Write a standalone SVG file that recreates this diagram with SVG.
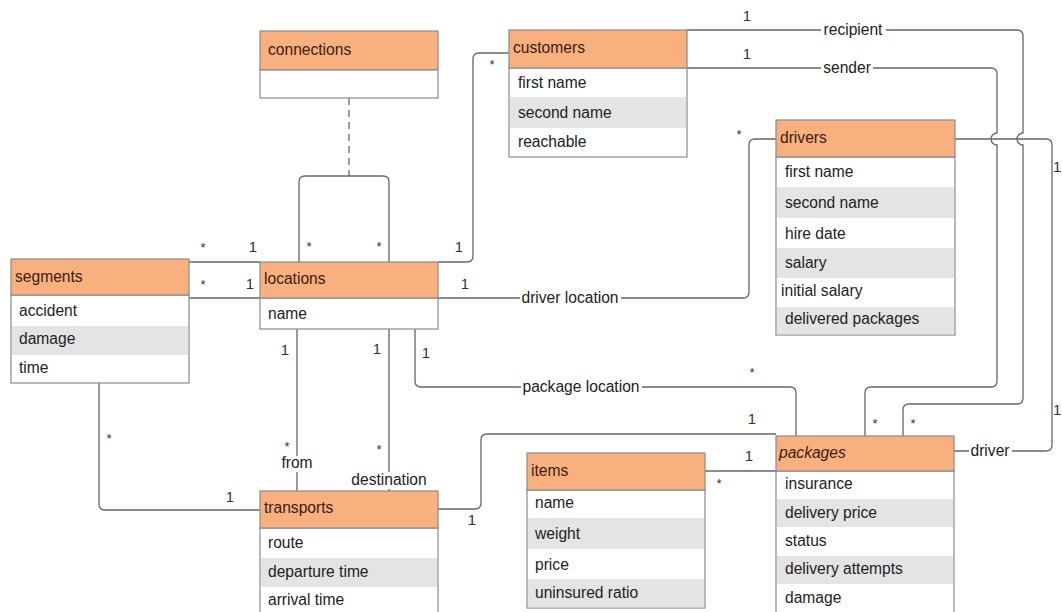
<svg xmlns="http://www.w3.org/2000/svg" width="1062" height="612" viewBox="0 0 1062 612">
<style>
text{font-family:"Liberation Sans",Arial,sans-serif;font-size:15.6px;fill:#222}
.hd{fill:#F9B07F;stroke:#8a8a8a;stroke-width:1.2}
.bx{fill:#fff;stroke:#8a8a8a;stroke-width:1.2}
.zb{fill:#e4e4e4}
.ht{fill:#3a1c10}
.ln{fill:none;stroke:#666;stroke-width:1.3}
.dash{stroke-dasharray:7,5}
.lb{fill:#fff}
.m{font-size:15px;fill:#333}
.s{font-size:13px;fill:#333}
.c{text-anchor:middle}
</style>
<rect width="1062" height="612" fill="#fff"/>
<g id="connectors">
<path class="ln dash" d="M349,98 V176"/>
<path class="ln" d="M299,262 V182 Q299,176 305,176 H383 Q389,176 389,182 V262"/>
<path class="ln" d="M189,262 H260"/>
<path class="ln" d="M189,298 H260"/>
<path class="ln" d="M438,262 H467 Q473,262 473,256 V59 Q473,53 479,53 H509"/>
<path class="ln" d="M438,298 H743 Q749,298 749,292 V145 Q749,139 755,139 H776"/>
<path class="ln" d="M415,329 V381 Q415,387 421,387 H790 Q796,387 796,393 V436"/>
<path class="ln" d="M297,329 V491"/>
<path class="ln" d="M389,329 V491"/>
<path class="ln" d="M99,383 V504 Q99,510 105,510 H260"/>
<path class="ln" d="M438,509 H475 Q481,509 481,503 V440 Q481,434 487,434 H776"/>
<path class="ln" d="M705,471 H776"/>
<path class="ln" d="M687,30 H1017 Q1023,30 1023,36 V133 A6,6 0 0 0 1023,145 V398 Q1023,404 1017,404 H909 Q903,404 903,410 V436"/>
<path class="ln" d="M687,68 H991 Q997,68 997,74 V133 A6,6 0 0 0 997,145 V381 Q997,387 991,387 H871 Q865,387 865,393 V436"/>
<path class="ln" d="M955,139 H1046 Q1052,139 1052,145 V445 Q1052,451 1046,451 H954"/>
<rect class="lb" x="821" y="20" width="65" height="20"/>
<text x="853" y="35" class="c">recipient</text>
<rect class="lb" x="821" y="58" width="52" height="20"/>
<text x="847" y="73" class="c">sender</text>
<rect class="lb" x="520" y="288" width="101" height="20"/>
<text x="570" y="303" class="c">driver location</text>
<rect class="lb" x="521" y="377" width="121" height="20"/>
<text x="581" y="392" class="c">package location</text>
<rect class="lb" x="969" y="441" width="43" height="20"/>
<text x="990" y="456" class="c">driver</text>
<rect class="lb" x="280" y="456" width="34" height="16"/>
<text x="297" y="468" class="c">from</text>
<rect class="lb" x="347" y="472" width="84" height="17"/>
<text x="389" y="485" class="c">destination</text>
<text x="203" y="252" class="s c">*</text>
<text x="253" y="252" class="m c">1</text>
<text x="203" y="289" class="s c">*</text>
<text x="250" y="289" class="m c">1</text>
<text x="309" y="251" class="s c">*</text>
<text x="379" y="251" class="s c">*</text>
<text x="459" y="252" class="m c">1</text>
<text x="492" y="69" class="s c">*</text>
<text x="465" y="289" class="m c">1</text>
<text x="739" y="139" class="s c">*</text>
<text x="285" y="355" class="m c">1</text>
<text x="287" y="451" class="s c">*</text>
<text x="377" y="354" class="m c">1</text>
<text x="379" y="454" class="s c">*</text>
<text x="426" y="358" class="m c">1</text>
<text x="752" y="377" class="s c">*</text>
<text x="109" y="443" class="s c">*</text>
<text x="230" y="502" class="m c">1</text>
<text x="472" y="525" class="m c">1</text>
<text x="752" y="424" class="m c">1</text>
<text x="749" y="461" class="m c">1</text>
<text x="719" y="488" class="s c">*</text>
<text x="747" y="21" class="m c">1</text>
<text x="913" y="428" class="s c">*</text>
<text x="747" y="59" class="m c">1</text>
<text x="875" y="428" class="s c">*</text>
<text x="1053" y="172" class="m">1</text>
<text x="1053" y="415" class="m">1</text>
</g>
<g id="connections">
<rect class="hd" x="260" y="31" width="178" height="39"/>
<rect class="bx" x="260" y="70" width="178" height="28"/>
<text x="268" y="55" class="ht">connections</text>
</g>
<g id="customers">
<rect class="bx" x="509" y="68" width="178" height="89"/>
<rect class="zb" x="510" y="97" width="176" height="31"/>
<rect class="hd" x="509" y="30" width="178" height="38"/>
<text x="513" y="52.5" class="ht">customers</text>
<text x="518" y="88">first name</text>
<text x="518" y="118">second name</text>
<text x="518" y="146.5">reachable</text>
</g>
<g id="locations">
<rect class="bx" x="260" y="298" width="178" height="31"/>
<rect class="hd" x="260" y="262" width="178" height="36"/>
<text x="264" y="283.5" class="ht">locations</text>
<text x="268" y="318.5">name</text>
</g>
<g id="segments">
<rect class="bx" x="11" y="295" width="178" height="88"/>
<rect class="zb" x="12" y="326" width="176" height="29"/>
<rect class="hd" x="11" y="259" width="178" height="36"/>
<text x="15" y="281.5" class="ht">segments</text>
<text x="19" y="315.5">accident</text>
<text x="19" y="343.5">damage</text>
<text x="19" y="372.5">time</text>
</g>
<g id="drivers">
<rect class="bx" x="776" y="157" width="179" height="178"/>
<rect class="zb" x="777" y="187" width="177" height="31"/>
<rect class="zb" x="777" y="248" width="177" height="30"/>
<rect class="zb" x="777" y="307" width="177" height="27.4"/>
<rect class="hd" x="776" y="120" width="179" height="37"/>
<text x="780" y="142.5" class="ht">drivers</text>
<text x="785" y="176.5">first name</text>
<text x="785" y="207.5">second name</text>
<text x="785" y="238.5">hire date</text>
<text x="785" y="267.5">salary</text>
<text x="781" y="295.5">initial salary</text>
<text x="785" y="323.5">delivered packages</text>
</g>
<g id="transports">
<rect class="bx" x="260" y="528" width="178" height="90"/>
<rect class="zb" x="261" y="558" width="176" height="29"/>
<rect class="hd" x="260" y="491" width="178" height="37"/>
<text x="264" y="512.5" class="ht">transports</text>
<text x="268" y="547.5">route</text>
<text x="268" y="576.5">departure time</text>
<text x="268" y="604.5">arrival time</text>
</g>
<g id="items">
<rect class="bx" x="527" y="490" width="178" height="118"/>
<rect class="zb" x="528" y="518" width="176" height="31"/>
<rect class="zb" x="528" y="579" width="176" height="28.4"/>
<rect class="hd" x="527" y="453" width="178" height="37"/>
<text x="531" y="475.5" class="ht">items</text>
<text x="535" y="507.5">name</text>
<text x="535" y="538.5">weight</text>
<text x="535" y="569.5">price</text>
<text x="535" y="597.5">uninsured ratio</text>
</g>
<g id="packages">
<rect class="bx" x="776" y="471" width="178" height="147"/>
<rect class="zb" x="777" y="499" width="176" height="28"/>
<rect class="zb" x="777" y="556" width="176" height="28"/>
<rect class="hd" x="776" y="436" width="178" height="35"/>
<text x="779" y="457.5" class="ht" font-style="italic">packages</text>
<text x="785" y="488.5">insurance</text>
<text x="785" y="517.5">delivery price</text>
<text x="785" y="545.5">status</text>
<text x="785" y="573.5">delivery attempts</text>
<text x="785" y="602.5">damage</text>
</g>
</svg>
